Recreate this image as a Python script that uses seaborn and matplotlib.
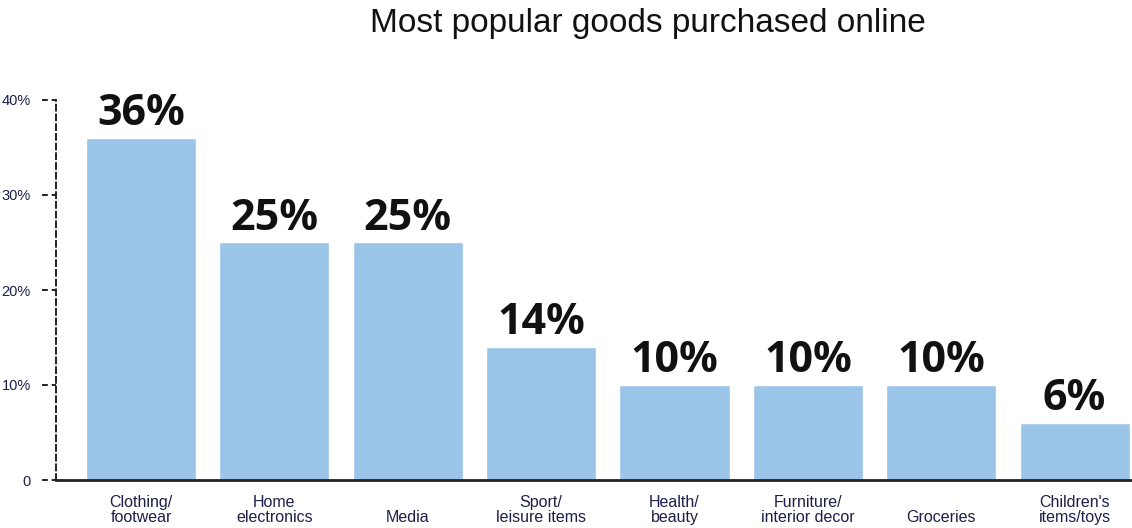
import matplotlib
matplotlib.use("Agg")
import matplotlib.pyplot as plt
import matplotlib.transforms as mtransforms
import seaborn as sns
import pandas as pd

categories = ["Clothing/\nfootwear", "Home\nelectronics", "\nMedia", "Sport/\nleisure items",
              "Health/\nbeauty", "Furniture/\ninterior decor", "\nGroceries", "Children's\nitems/toys"]
shares = [36, 25, 25, 14, 10, 10, 10, 6]
y_ticks = [0, 10, 20, 30, 40]
y_tick_labels = ["0", "10%", "20%", "30%", "40%"]

sns.set_style("white")
plt.rcParams["font.family"] = ["Liberation Sans", "DejaVu Sans"]

df = pd.DataFrame({"category": categories, "share": shares})

fig = plt.figure(figsize=(11.32, 5.28), dpi=100)
ax = fig.add_axes([56 / 1132, 48 / 528, 1 - 56 / 1132, 380 / 528])

bar_color = "#9BC5E8"
sns.barplot(data=df, x="category", y="share", color=bar_color, width=0.825,
            saturation=1, ax=ax)

ax.set_xlim(-0.637, 7.43)
ax.set_ylim(0, 40)
ax.set_xlabel("")
ax.set_ylabel("")

# value labels above each bar
for i, v in enumerate(shares):
    ax.annotate(f"{v}%", (i, v), xytext=(0, 2), textcoords="offset points",
                ha="center", va="bottom", fontsize=31, fontweight="bold",
                family=["Open Sans", "DejaVu Sans"], color="#111111")

# spines: dashed vertical axis, solid baseline
for s in ["top", "right"]:
    ax.spines[s].set_visible(False)
ax.spines["left"].set_linestyle((0, (3, 2)))
ax.spines["left"].set_linewidth(1.4)
ax.spines["left"].set_color("#222222")
ax.spines["bottom"].set_linewidth(2)
ax.spines["bottom"].set_color("#222222")

navy = "#1d1f48"
ax.set_yticks(y_ticks)
ax.set_yticklabels(y_tick_labels, fontsize=10.5, color=navy,
                   family=["Liberation Sans", "DejaVu Sans"])
ax.tick_params(axis="y", length=0, pad=18)
ax.tick_params(axis="x", length=0, pad=11)
for lbl in ax.get_xticklabels():
    lbl.set_fontsize(11.5)
    lbl.set_color(navy)
    lbl.set_family(["Liberation Sans", "DejaVu Sans"])
    lbl.set_linespacing(0.95)

# dashed tick marks to the left of the vertical axis
trans = mtransforms.blended_transform_factory(ax.transAxes, ax.transData)
for t in y_ticks:
    ax.plot([-14 / 1076, 0], [t, t], transform=trans, clip_on=False,
            color="#222222", lw=1.4, linestyle=(0, (3, 2)))

fig.text(0.572, 0.955, "Most popular goods purchased online", ha="center", va="center",
         fontsize=24, color="#111111", family=["Liberation Sans", "DejaVu Sans"])

fig.savefig("out.png", dpi=100)
